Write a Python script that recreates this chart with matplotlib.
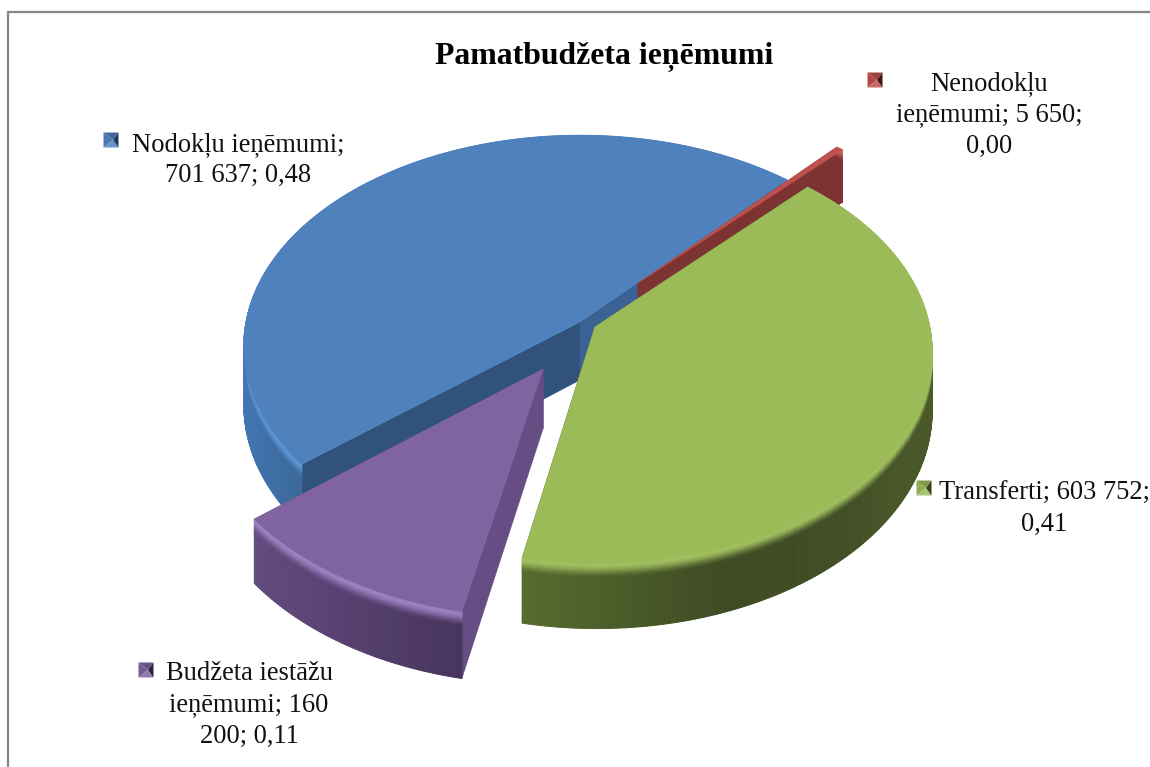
import numpy as np
import matplotlib
matplotlib.use("Agg")
import matplotlib.pyplot as plt
from matplotlib.collections import PolyCollection
from matplotlib.colors import to_rgb
from matplotlib.patches import Polygon

# ---- data ----
title = "Pamatbudžeta ieņēmumi"
categories = ["Nodokļu ieņēmumi", "Nenodokļu ieņēmumi", "Transferti", "Budžeta iestāžu ieņēmumi"]
values = [701637, 5650, 603752, 160200]
labels = ["Nodokļu ieņēmumi;\n701 637; 0,48",
          "Nenodokļu\nieņēmumi; 5 650;\n0,00",
          "Transferti; 603 752;\n0,41",
          "Budžeta iestāžu\nieņēmumi; 160\n200; 0,11"]

# ---- style ----
explode = [0.0, 0.26, 0.05, 0.245]
explode_turn = [0, 0, 0, 5]
top_col = ["#4f81bd", "#c0504d", "#9bbb59", "#8064a2"]
high_col = ["#5f97d8", "#cf6a67", "#a2c060", "#9d83c2"]
cut_col = [("#31527a", "#3a6294"), ("#7d3331", "#7d3331"), ("#4a5a2a", "#4a5a2a"), ("#664e85", "#664e85")]
wall_stops = [
    [(-1, "#4478b3"), (-0.9, "#3f70a8"), (-0.77, "#3b6899"), (1, "#3b6899")],
    [(-1, "#7d3331"), (1, "#7d3331")],
    [(-0.2, "#566b2f"), (0.34, "#3f4b24"), (0.6, "#414d25"), (1, "#4c5b2a")],
    [(-0.77, "#634c7e"), (-0.5, "#55406f"), (-0.2, "#48355d")],
]
label_pos = [(238, 160), (989, 115), (1044, 509), (249, 705)]
key_pos = [(111, 140), (875, 80), (924, 488), (146, 670)]
key_dark = ["#1f3a5c", "#401514", "#36431c", "#2f2042"]

CX, CY, RX, RY, P = 580, 322, 334, 208, 0.114
WALL = 58
START = 219.4


def project(u, v):
    k = 1 / (1 - P * v)
    return CX + RX * u * k, CY + RY * v * k, k


def mix(a, b, t):
    a, b = np.array(to_rgb(a)), np.array(to_rgb(b))
    return tuple(a + (b - a) * t)


def wall_colour(stops, theta):
    s = np.cos(np.radians(theta))
    xs = [p[0] for p in stops]
    rgb = np.array([to_rgb(p[1]) for p in stops])
    return tuple(np.interp(s, xs, rgb[:, i]) for i in range(3))


def darken(c, f=0.72):
    return tuple(np.array(to_rgb(c)) * f)


fig = plt.figure(figsize=(11.5, 7.67), dpi=100, facecolor="white")
ax = fig.add_axes([0, 0, 1, 1])
ax.set_xlim(0, 1150)
ax.set_ylim(767, 0)
ax.axis("off")

ax.plot([8, 8, 1151], [768, 12, 12], color="#868686", lw=1.6, solid_joinstyle="miter", zorder=1)

total = sum(values)
angle = START
spans = []
for val in values:
    sweep = val / total * 360
    spans.append((angle, angle - sweep))
    angle -= sweep

# smooth bevel: fine layers near the rim, then the plain wall
bevel_edges = np.r_[np.linspace(0, 0.24, 13), 1.0]


def bevel_shade(i, base, t):
    if t < 0.03:
        return mix(top_col[i], high_col[i], t / 0.03)
    f = min(1.0, (t - 0.03) / 0.21)
    return mix(high_col[i], base, f * f * (3 - 2 * f))


def draw_wedge(i, z):
    a0, a1 = spans[i]
    mid = np.radians((a0 + a1) / 2 + explode_turn[i])
    ou, ov = explode[i] * np.cos(mid), -explode[i] * np.sin(mid)
    th = np.linspace(a0, a1, max(6, int(abs(a1 - a0) * 2)))
    u = ou + np.cos(np.radians(th))
    v = ov - np.sin(np.radians(th))
    x, y, k = project(u, v)
    ax_, ay_, ak = project(np.array([ou]), np.array([ov]))
    ax_, ay_, ak = ax_[0], ay_[0], ak[0]

    # radial cut faces
    for (ex, ey, ek), col in zip([(x[0], y[0], k[0]), (x[-1], y[-1], k[-1])], cut_col[i]):
        ax.add_patch(Polygon([(ax_, ay_), (ex, ey), (ex, ey + WALL * ek), (ax_, ay_ + WALL * ak)],
                             closed=True, fc=col, ec=col, lw=0.3, zorder=z))

    # outer wall, painted as thin strips so the shading can vary with the angle
    quads, cols = [], []
    for j in range(len(th) - 1):
        base = wall_colour(wall_stops[i], (th[j] + th[j + 1]) / 2)
        h0, h1 = WALL * k[j], WALL * k[j + 1]
        for t0, t1 in zip(bevel_edges[:-1], bevel_edges[1:]):
            quads.append([(x[j], y[j] + t0 * h0), (x[j + 1], y[j + 1] + t0 * h1),
                          (x[j + 1], y[j + 1] + t1 * h1), (x[j], y[j] + t1 * h0)])
            cols.append(bevel_shade(i, base, (t0 + t1) / 2) if t1 < 1 else base)
    ax.add_collection(PolyCollection(quads, facecolors=cols, edgecolors=cols, linewidths=0.7, zorder=z + 0.1))

    # top face
    pts = [(ax_, ay_)] + list(zip(x, y))
    ax.add_patch(Polygon(pts, closed=True, fc=top_col[i], ec=top_col[i], lw=0.3, zorder=z + 0.2))


for z, i in enumerate([0, 1, 2, 3]):
    draw_wedge(i, 2 + z)

# labels
font = ["Liberation Serif", "DejaVu Serif"]
ax.text(604, 57, title, ha="center", va="center", fontsize=22.9, fontweight="bold", family=font, color="black", zorder=10)
for lab, (lx, ly) in zip(labels, label_pos):
    ax.text(lx, ly, lab, ha="center", va="center", multialignment="center", fontsize=19.1,
            family=font, color="#111111", linespacing=1.33, zorder=10, clip_on=False)

# legend keys: small bevelled squares
for (kx, ky), col, dark in zip(key_pos, top_col, key_dark):
    s = 7.5
    c = (kx + 2, ky)
    tl, tr, br, bl = (kx - s, ky - s), (kx + s, ky - s), (kx + s, ky + s), (kx - s, ky + s)
    ax.add_patch(Polygon([tl, tr, c], fc=darken(col, 0.82), ec="none", zorder=10))
    ax.add_patch(Polygon([tl, bl, c], fc=darken(col, 0.92), ec="none", zorder=10))
    ax.add_patch(Polygon([bl, br, c], fc=mix(col, "white", 0.15), ec="none", zorder=10))
    ax.add_patch(Polygon([tr, br, c], fc=dark, ec="none", zorder=10))

fig.savefig("out.png", dpi=100, facecolor="white")
